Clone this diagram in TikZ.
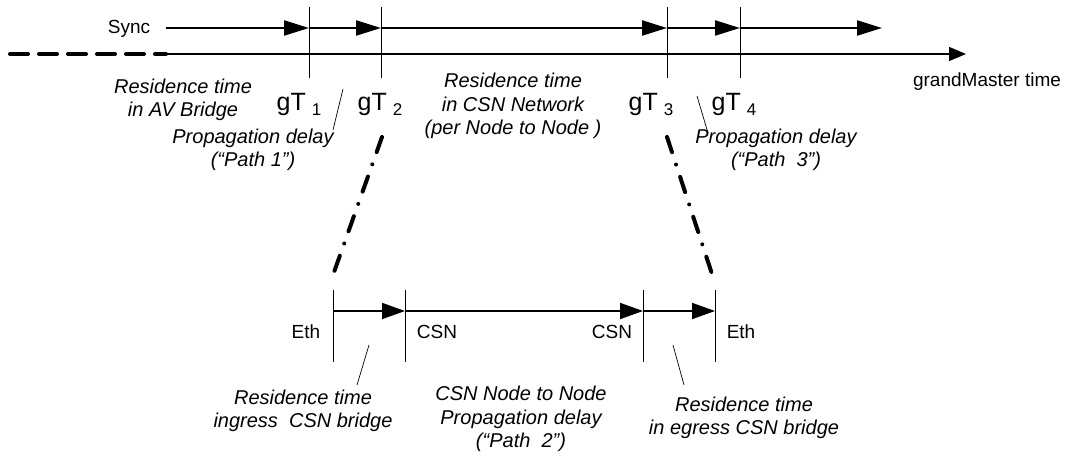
\documentclass[tikz,border=0pt]{standalone}
\usepackage{fontspec}
\setmainfont{Liberation Sans}
\usetikzlibrary{positioning}
\usetikzlibrary{calc}
\usetikzlibrary{arrows.meta}
\tikzset{>=latex}
\tikzset{note/.style={font=\fontsize{20}{23.5}\selectfont\itshape, align=center, inner sep=0pt}}
\tikzset{tag/.style={font=\fontsize{19}{22}\selectfont, inner sep=0pt}}
\tikzset{stamp/.style={font=\fontsize{25}{28}\selectfont, inner sep=0pt, anchor=base}}
\tikzset{tickline/.style={line width=0.9pt}}
\tikzset{leader/.style={line width=0.7pt}}
\tikzset{sync/.style={-{Triangle[length=25pt, width=15pt]}, line width=2.2pt}}
\tikzset{hop/.style={-{Triangle[length=23pt, width=16pt]}, line width=1.8pt}}
\tikzset{timeaxis/.style={-{Triangle[length=17pt, width=14pt]}, line width=1.2pt}}
\tikzset{past/.style={line width=4pt, line cap=round, dash pattern=on 18pt off 11pt}}
\tikzset{zoomline/.style={line width=4pt, line cap=round, dash pattern=on 16pt off 13pt on 0pt off 13pt}}
\newcommand{\gtsub}[1]{\hspace{6pt}\raisebox{-5pt}{\fontsize{17}{17}\selectfont #1}}

\begin{document}
\begin{tikzpicture}[x=1pt, y=-1pt]
    \useasboundingbox (0,0) rectangle (1067,457);

    % ------- Start grandMaster time line ------- %
    \node [tag] (sync) at (129,29) {Sync};
    \coordinate (syncStart) at (166,28);
    \coordinate (syncEnd) at (882,28);
    \coordinate (dashStart) at (10,54);
    \coordinate (axisStart) at (166,54);
    \coordinate (axisEnd) at (966,54);
    \node [tag] (gmTime) at (987,82) {grandMaster time};

    % The time stamps on the line.
    \foreach \name/\x in {gt1/309, gt2/381, gt3/667, gt4/740} {
        \coordinate (\name top) at (\x,7);
        \coordinate (\name bot) at (\x,78);
        \coordinate (\name) at (\x,28);
        \draw [tickline] (\name top) -- (\name bot);
    }

    \draw [past] (dashStart) -- (axisStart);
    \draw [timeaxis] (axisStart) -- (axisEnd);
    \draw [sync] (syncStart) -- (gt1);
    \draw [sync] (gt1) -- (gt2);
    \draw [sync] (gt2) -- (gt3);
    \draw [sync] (gt3) -- (gt4);
    \draw [sync] (gt4) -- (syncEnd);

    \node [stamp] (gT1) at (299,111) {gT\gtsub{1}};
    \node [stamp] (gT2) at (380,111) {gT\gtsub{2}};
    \node [stamp] (gT3) at (651,111) {gT\gtsub{3}};
    \node [stamp] (gT4) at (734,111) {gT\gtsub{4}};

    \node [note] (resAV) at (183,100) {Residence time\\in AV Bridge};
    \node [note] (path1) at (253,150) {Propagation delay\\(“Path 1")};
    \node [note] (resCSN) at (513,106) {Residence time\\in CSN Network\\(per Node to Node )};
    \node [note] (path3) at (776,150) {Propagation delay\\(“Path~~3”)};

    % Leaders from the notes to the gaps.
    \coordinate (lead1a) at (343,89);
    \coordinate (lead1b) at (333,130);
    \coordinate (lead3a) at (697,96);
    \coordinate (lead3b) at (708,133);
    \draw [leader] (lead1a) -- (lead1b);
    \draw [leader] (lead3a) -- (lead3b);
    % ------- End grandMaster time line ------- %

    % ------- Start CSN detail ------- %
    \foreach \name/\x in {eth1/333, csn1/405, csn2/643, eth2/715} {
        \coordinate (\name top) at (\x,290);
        \coordinate (\name bot) at (\x,362);
        \coordinate (\name) at (\x,311);
        \draw [tickline] (\name top) -- (\name bot);
    }
    \draw [hop] (eth1) -- (csn1);
    \draw [hop] (csn1) -- (csn2);
    \draw [hop] (csn2) -- (eth2);

    \node [tag] (ethIn) at (306,332) {Eth};
    \node [tag] (csnIn) at (437,332) {CSN};
    \node [tag] (csnOut) at (612,332) {CSN};
    \node [tag] (ethOut) at (741,332) {Eth};

    % The zoom from the CSN network to the detail.
    \coordinate (zoomL) at (382,137);
    \coordinate (zoomR) at (667,137);
    \draw [zoomline] (zoomL) -- ($(eth1top)+(0,-15)$);
    \draw [zoomline] (zoomR) -- ($(eth2top)+(-2,-13)$);

    \node [note] (resIn) at (303,411) {Residence time\\ingress~~CSN bridge};
    \node [note] (path2) at (521,419) {CSN Node to Node\\Propagation delay\\(“Path~~2")};
    \node [note] (resOut) at (744,418) {Residence time\\in egress CSN bridge};

    \coordinate (lead2a) at (369,345);
    \coordinate (lead2b) at (357,385);
    \coordinate (lead4a) at (673,345);
    \coordinate (lead4b) at (684,385);
    \draw [leader] (lead2a) -- (lead2b);
    \draw [leader] (lead4a) -- (lead4b);
    % ------- End CSN detail ------- %
\end{tikzpicture}
\end{document}
